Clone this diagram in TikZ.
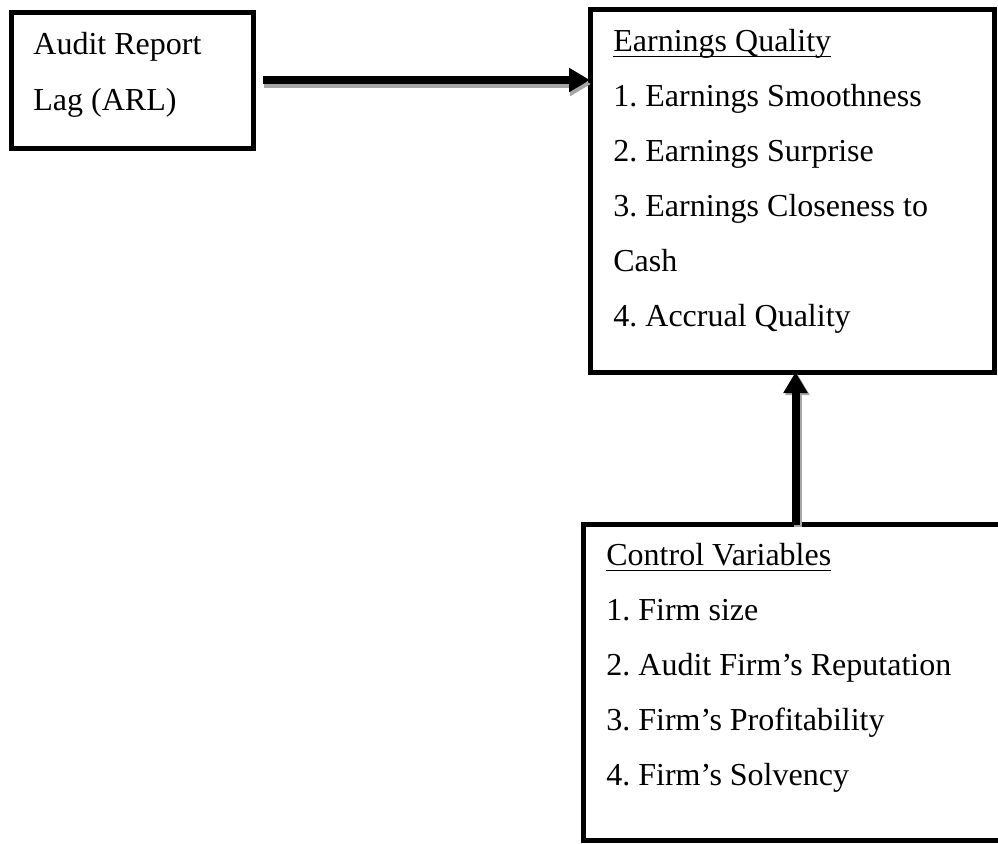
\documentclass[tikz,border=0pt]{standalone}
\usepackage{fontspec}
\setmainfont{Liberation Serif}
\usetikzlibrary{arrows.meta}

% underlined heading
\newcommand{\headtext}[1]{\setbox0\hbox{#1}\rlap{\rule[-3pt]{\wd0}{0.75pt}}\box0}

\begin{document}
\frenchspacing
\begin{tikzpicture}[x=0.5pt, y=-0.5pt,
    box/.style={draw, line width=2.5pt, rectangle, outer sep=0pt, inner sep=0pt, anchor=north west},
    txt/.style={anchor=base west, inner sep=0pt, font=\fontsize{16}{19}\selectfont},
    link/.style={line width=4pt, -{Triangle[length=10.5pt, width=11.5pt]}},
    linkshadow/.style={line width=4pt, black!35, -{Triangle[length=10.5pt, width=11.5pt]}}]
                \useasboundingbox (0,0) rectangle (998,843);

                % Boxes
                \node[box, minimum width=121pt, minimum height=68pt] (arl) at (11,12) {};
                \node[box, minimum width=202pt, minimum height=181.5pt] (eq) at (590,9) {};
                \node[box, minimum width=212.5pt, minimum height=157.75pt] (cv) at (583,524.5) {};

                % Texts
                \node[txt] (arl1) at (33,54) {Audit Report};
                \node[txt] (arl2) at (33,110) {Lag (ARL)};

                \node[txt] (eq0) at (613,51) {\headtext{Earnings Quality}};
                \foreach \t [count=\i] in {1. Earnings Smoothness, 2. Earnings Surprise, 3. Earnings Closeness to, Cash, 4. Accrual Quality}
                    \node[txt] (eq\i) at (613,{51+55*\i}) {\t};

                \node[txt] (cv0) at (606,565) {\headtext{Control Variables}};
                \foreach \t [count=\i] in {1. Firm size, 2. Audit Firm's Reputation, 3. Firm's Profitability, 4. Firm's Solvency}
                    \node[txt] (cv\i) at (606,{565+55*\i}) {\t};

                % Arrows
                \draw[linkshadow, shorten <=5pt, transform canvas={xshift=0.5pt, yshift=-2pt}] (arl.east) -- (arl.east -| eq.west);
                \draw[link, shorten <=5pt] (arl.east) -- (arl.east -| eq.west);
                \draw[linkshadow, transform canvas={xshift=1pt, yshift=-1pt}] (cv.north) -- (cv.north |- eq.south);
                \draw[link] (cv.north) -- (cv.north |- eq.south);
            \end{tikzpicture}
\end{document}
